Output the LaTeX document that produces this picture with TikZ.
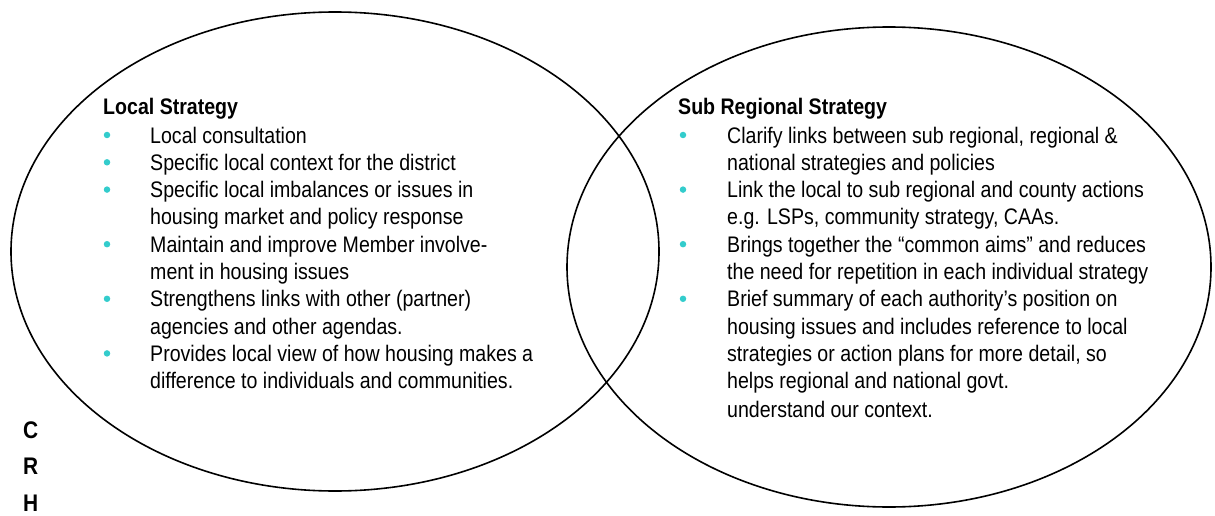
\documentclass[tikz,border=0pt]{standalone}
\usepackage{fontspec}
\setmainfont{Liberation Sans}[FakeStretch=0.87]
\definecolor{bulletteal}{HTML}{33CCCC}
\begin{document}
\begin{tikzpicture}[x=1pt,y=-1pt,
  circ/.style={draw=black,line width=1.6pt},
  txt/.style={anchor=base west,inner sep=0pt,font=\fontsize{22.5}{27.3}\selectfont},
  head/.style={anchor=base west,inner sep=0pt,font=\fontsize{22.5}{27.3}\selectfont\bfseries},
  side/.style={anchor=base west,inner sep=0pt,font=\fontsize{24}{27}\selectfont\bfseries},
  dot/.style={fill=bulletteal,draw=none,circle,inner sep=0pt,minimum size=6.5pt}]
\useasboundingbox (0,0) rectangle (1215,516);
% ellipses
\draw[circ] (335,251.5) ellipse [x radius=324, y radius=239.5];
\draw[circ] (889,267) ellipse [x radius=322, y radius=240];
% left block
\node[head] (lh) at (103,115) {Local Strategy};
\node[txt] (l0) at (150,143) {Local consultation};
\node[txt] (l1) at (150,170.3) {Specific local context for the district};
\node[txt] (l2) at (150,197.6) {Specific local imbalances or issues in};
\node[txt] (l3) at (150,224.9) {housing market and policy response};
\node[txt] (l4) at (150,252.2) {Maintain and improve Member involve-};
\node[txt] (l5) at (150,279.5) {ment in housing issues};
\node[txt] (l6) at (150,306.8) {Strengthens links with other (partner)};
\node[txt] (l7) at (150,334.1) {agencies and other agendas.};
\node[txt] (l8) at (150,361.4) {Provides local view of how housing makes a};
\node[txt] (l9) at (150,388.7) {difference to individuals and communities.};
\node[dot] (lb0) at (107,135) {};
\node[dot] (lb1) at (107,162.3) {};
\node[dot] (lb2) at (107,189.6) {};
\node[dot] (lb4) at (107,244.2) {};
\node[dot] (lb6) at (107,298.8) {};
\node[dot] (lb8) at (107,353.4) {};
% right block
\node[head] (rh) at (678,115) {Sub Regional Strategy};
\node[txt] (r0) at (727,143) {Clarify links between sub regional, regional \&};
\node[txt] (r1) at (727,170.3) {national strategies and policies};
\node[txt] (r2) at (727,197.6) {Link the local to sub regional and county actions};
\node[txt] (r3) at (727,224.9) {e.g. LSPs, community strategy, CAAs.};
\node[txt] (r4) at (727,252.2) {Brings together the “common aims” and reduces};
\node[txt] (r5) at (727,279.5) {the need for repetition in each individual strategy};
\node[txt] (r6) at (727,306.8) {Brief summary of each authority’s position on};
\node[txt] (r7) at (727,334.1) {housing issues and includes reference to local};
\node[txt] (r8) at (727,361.4) {strategies or action plans for more detail, so};
\node[txt] (r9) at (727,388.7) {helps regional and national govt.};
\node[txt] (r10) at (727,417.5) {understand our context.};
\node[dot] (rb0) at (683,135) {};
\node[dot] (rb2) at (683,189.6) {};
\node[dot] (rb4) at (683,244.2) {};
\node[dot] (rb6) at (683,298.8) {};
% side letters
\node[side] (sc) at (23,438) {C};
\node[side] (sr) at (23,474.5) {R};
\node[side] (sh) at (23,511) {H};
\end{tikzpicture}
\end{document}
